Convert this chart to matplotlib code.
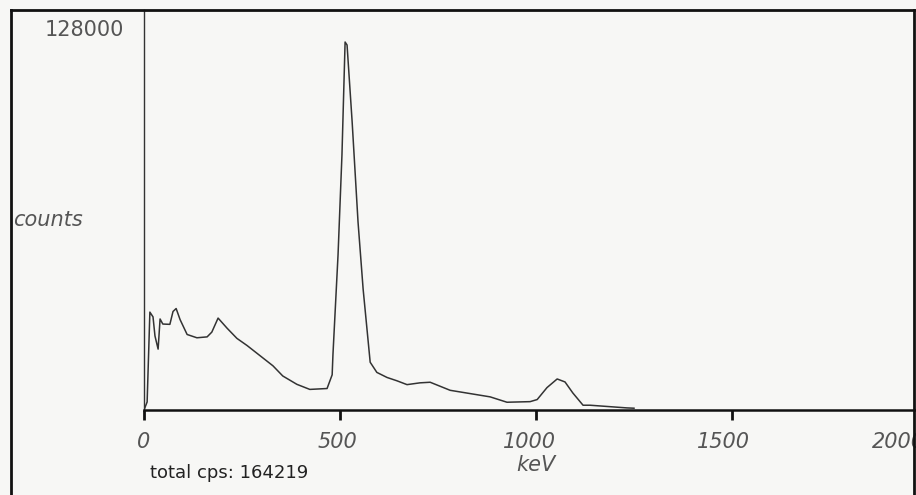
import matplotlib.pyplot as plt
from matplotlib.lines import Line2D
from matplotlib.transforms import ScaledTranslation

# Spectrum (energy in keV, counts)
energy_kev = [0, 8, 15, 23, 28, 36, 41, 48, 66, 74, 82, 92, 110, 135, 161, 173, 189,
              212, 237, 263, 296, 329, 354, 390, 423, 467, 480, 482, 495, 505, 513,
              518, 531, 546, 559, 577, 594, 620, 645, 671, 704, 730, 781, 832, 883,
              926, 985, 1003, 1028, 1054, 1074, 1094, 1120, 1138, 1232, 1250]
counts = [0, 2700, 32800, 31200, 24800, 20400, 30500, 28800, 28700, 33000, 34000,
          30300, 25300, 24200, 24500, 26100, 30800, 27400, 24000, 21600, 18200,
          14800, 11400, 8600, 6900, 7200, 11800, 18500, 52000, 85500, 123300,
          122300, 96500, 63000, 40500, 16000, 12600, 10900, 9800, 8500, 9100, 9300,
          6600, 5500, 4400, 2600, 2800, 3500, 7500, 10400, 9400, 5700, 1600, 1600,
          700, 600]

x_ticks = [0, 500, 1000, 1500, 2000]
x_tick_labels = ['0', '500', '1000', '1500', '2000']
y_max_label = 128000
total_cps = 164219

bg = '#f7f7f5'
fig = plt.figure(figsize=(9.16, 4.95), dpi=100, facecolor=bg)
ax = fig.add_axes([144 / 916, 85 / 495, 784 / 916, 400 / 495])
ax.set_facecolor(bg)

ax.plot(energy_kev, counts, color='#333333', linewidth=1.1)

ax.set_xlim(0, 2000)
ax.set_ylim(0, y_max_label * 400 / 382)

ax.spines['top'].set_visible(False)
ax.spines['right'].set_visible(False)
ax.spines['left'].set_color('#333333')
ax.spines['left'].set_linewidth(1.0)
ax.spines['bottom'].set_color('#111111')
ax.spines['bottom'].set_linewidth(1.8)

ax.set_xticks(x_ticks)
ax.set_xticklabels(x_tick_labels, fontsize=15, style='italic', color='#555555')
ax.tick_params(axis='x', direction='out', length=7, width=2, color='#111111', pad=9)
# the photo is skewed a little, so the labels drift left of their ticks
for lbl, dx in zip(ax.get_xticklabels(), [0, -3, -7, -9, -30]):
    lbl.set_transform(lbl.get_transform() + ScaledTranslation(dx / 100, 0, fig.dpi_scale_trans))

ax.set_yticks([y_max_label])
ax.set_yticklabels([str(y_max_label)], fontsize=15, color='#555555')
ax.tick_params(axis='y', length=0, pad=14)

ax.text(1000, -15000, 'keV', fontsize=15, style='italic', color='#555555',
        ha='center', va='top', clip_on=False)
fig.text(13 / 916, 1 - 220 / 495, 'counts', fontsize=15, style='italic',
         color='#555555', ha='left', va='center')

fig.text(150 / 916, 1 - 473 / 495, f'total cps: {total_cps}', fontsize=13,
         color='#222222', ha='left', va='center')

# screen frame around the chart
fig.add_artist(Line2D([11 / 916, 11 / 916], [0, 1 - 10 / 495], color='#111111', linewidth=2))
fig.add_artist(Line2D([11 / 916, 914 / 916], [1 - 10 / 495, 1 - 10 / 495], color='#111111', linewidth=2))
fig.add_artist(Line2D([914 / 916, 914 / 916], [0, 1 - 10 / 495], color='#111111', linewidth=2))

fig.savefig('out.png', dpi=100, facecolor=bg)
